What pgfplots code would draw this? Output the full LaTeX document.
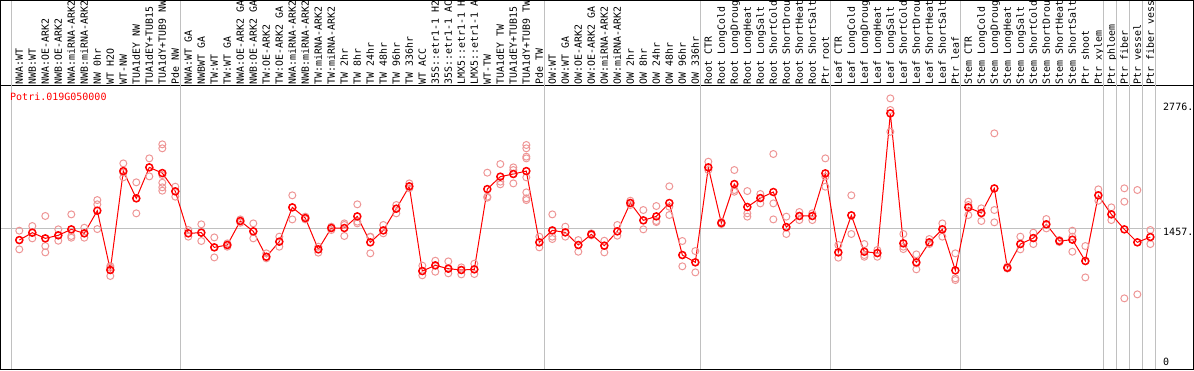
\documentclass[border=0pt]{standalone}
\usepackage{pgfplots}
\pgfplotsset{compat=1.18}
\usepackage{fontspec}
\setmonofont{DejaVu Sans Mono}
\definecolor{gridgray}{RGB}{192,192,192}
\definecolor{pinkrep}{RGB}{238,150,150}
\newcommand{\lblfont}{\ttfamily\fontsize{10}{10}\selectfont}
\newcommand{\toplblfont}{\ttfamily\fontsize{9.9}{10}\selectfont}
\begin{document}
\begin{tikzpicture}
\begin{axis}[
  name=ax,
  x=13pt, y=0.09477pt,
  xmin=-1.446, xmax=90.32, ymin=-35.9, ymax=2955.6,
  enlargelimits=false,
  clip=false,
  axis line style={black, line width=1pt},
  xtick={0,...,87},
  xticklabels={{NWA:WT},{NWB:WT},{NWA:OE-ARK2},{NWB:OE-ARK2},{NWA:miRNA-ARK2},{NWB:miRNA-ARK2},{NW 0hr},{WT H2O},{WT-NW},{TUA1dEY NW},{TUA1dEY+TUB15},{TUA1dY+TUB9 NW},{Pde NW},
  {NWA:WT GA},{NWBWT GA},{TW:WT},{TW:WT GA},{NWA:OE-ARK2 GA},{NWB:OE-ARK2 GA},{TW:OE-ARK2},{TW:OE-ARK2 GA},{NWA:miRNA-ARK2},{NWB:miRNA-ARK2},{TW:miRNA-ARK2},{TW:miRNA-ARK2},{TW 2hr},{TW 8hr},{TW 24hr},{TW 48hr},{TW 96hr},{TW 336hr},{WT ACC},{35S::etr1-1 H2},{35S::etr1-1 AC},{LMX5::etr1-1 H},{LMX5::etr1-1 A},{WT-TW},{TUA1dEY TW},{TUA1dEY+TUB15},{TUA1dY+TUB9 TW},{Pde TW},
  {OW:WT},{OW:WT GA},{OW:OE-ARK2},{OW:OE-ARK2 GA},{OW:miRNA-ARK2},{OW:miRNA-ARK2},{OW 2hr},{OW 8hr},{OW 24hr},{OW 48hr},{OW 96hr},{OW 336hr},
  {Root CTR},{Root LongCold},{Root LongDroug},{Root LongHeat},{Root LongSalt},{Root ShortCold},{Root ShortDrou},{Root ShortHeat},{Root ShortSalt},{Ptr root},
  {Leaf CTR},{Leaf LongCold},{Leaf LongDroug},{Leaf LongHeat},{Leaf LongSalt},{Leaf ShortCold},{Leaf ShortDrou},{Leaf ShortHeat},{Leaf ShortSalt},{Ptr leaf},
  {Stem CTR},{Stem LongCold},{Stem LongDroug},{Stem LongHeat},{Stem LongSalt},{Stem ShortCold},{Stem ShortDrou},{Stem ShortHeat},{Stem ShortSalt},{Ptr shoot},{Ptr xylem},
  {Ptr phloem},{Ptr fiber},{Ptr vessel},{Ptr fiber vess}},
  xticklabel pos=upper,
  xticklabel style={rotate=90, anchor=west, inner sep=0pt, text height=7pt, text depth=0pt, font=\toplblfont},
  xticklabel shift=1.6pt,
  ytick={1457,2776},
  yticklabels={1457.,2776.},
  yticklabel pos=right,
  yticklabel style={anchor=north west, inner sep=0pt, xshift=-30.5pt, font=\lblfont},
  extra y ticks={0},
  extra y tick labels={0},
  extra y tick style={yticklabel style={anchor=south west}},
  major tick length=0pt,
  tick style={draw=none},
]
% guide lines
\draw[gridgray, line width=1pt] (axis cs:-1.446,1457) -- (axis cs:87.82,1457);
\pgfplotsinvokeforeach{-0.62,12.38,40.38,52.38,62.38,72.38,83.38,84.38,85.38,86.38,87.38}{
  \draw[gridgray, line width=1pt] (axis cs:#1,-35.9) -- ([yshift=85.5pt]axis cs:#1,2955.6);
}
% replicates
\addplot[only marks, mark=o, mark size=3.5pt, pinkrep, line width=1pt] table {
x y
0 1429
0 1330
0 1232
1 1478
1 1408
1 1348
2 1584
2 1267
2 1200
3 1443
3 1380
3 1323
4 1601
4 1373
4 1355
5 1460
5 1401
5 1355
6 1752
6 1707
6 1446
7 1056
7 1038
7 951
8 2139
8 2041
8 1992
9 1939
9 1770
9 1612
10 2192
10 2097
10 2002
11 2340
11 2298
11 2016
11 1935
11 1886
11 1851
12 1893
12 1844
12 1788
13 1436
13 1401
13 1366
14 1496
14 1408
14 1320
15 1358
15 1253
15 1147
16 1295
16 1278
16 1260
17 1548
17 1531
17 1513
18 1506
18 1422
18 1348
19 1190
19 1154
19 1137
20 1366
20 1313
20 1260
21 1802
21 1675
21 1548
22 1577
22 1562
22 1548
23 1260
23 1232
23 1197
24 1471
24 1457
24 1436
25 1506
25 1489
25 1373
26 1707
26 1524
26 1506
27 1366
27 1362
27 1190
28 1489
28 1432
28 1401
29 1700
29 1661
29 1612
30 1928
30 1897
30 1876
31 1060
31 1003
31 958
32 1112
32 1063
32 996
33 1105
33 1028
33 979
34 1042
34 1014
34 968
35 1081
35 1021
35 972
36 2041
36 1788
36 1777
37 2132
37 1946
37 1918
38 2097
38 2069
38 2027
38 1928
39 2333
39 2298
39 2210
39 2192
39 1992
39 1833
39 1770
39 1752
40 1366
40 1306
40 1253
41 1601
41 1366
41 1341
42 1471
42 1411
42 1366
43 1330
43 1278
43 1207
44 1401
44 1390
44 1380
45 1323
45 1271
45 1200
46 1489
46 1422
46 1376
47 1745
47 1721
47 1700
48 1647
48 1538
48 1443
49 1689
49 1531
49 1520
50 1897
50 1682
50 1594
51 1320
51 1172
51 1053
52 1214
52 1095
52 989
53 2157
53 2097
53 2069
54 1520
54 1510
54 1499
55 2069
55 1858
55 1840
56 1847
56 1612
56 1577
57 1816
57 1773
57 1717
58 2238
58 1717
58 1548
59 1577
59 1467
59 1394
60 1626
60 1584
60 1541
61 1612
61 1584
61 1541
62 2192
62 1999
62 1893
63 1278
63 1200
63 1144
64 1802
64 1591
64 1394
65 1288
65 1172
65 1154
66 1225
66 1190
66 1154
67 2825
67 2702
67 2473
68 1394
68 1260
68 1235
69 1179
69 1084
69 1021
70 1341
70 1306
70 1288
71 1506
71 1443
71 1366
72 1190
72 926
72 908
73 1735
73 1700
73 1594
74 1665
74 1612
74 1531
75 2456
75 1647
75 1517
76 1049
76 1031
76 1031
77 1366
77 1288
77 1232
78 1408
78 1351
78 1288
79 1552
79 1496
79 1453
80 1330
80 1320
80 1309
81 1429
81 1366
81 1207
82 1267
82 1109
82 936
83 1865
83 1802
83 1745
84 1675
84 1601
84 1541
85 1876
85 1735
85 715
86 1858
86 1306
86 757
87 1436
87 1362
87 1288
};
% means
\addplot[red, line width=1pt, mark=o, mark size=3.5pt, mark options={line width=1.5pt, red}] table {
x y
0 1330
1 1408
2 1348
3 1380
4 1443
5 1401
6 1640
7 1014
8 2058
9 1770
10 2097
11 2037
12 1844
13 1401
14 1408
15 1253
16 1278
17 1531
18 1422
19 1154
20 1313
21 1675
22 1562
23 1232
24 1457
25 1457
26 1580
27 1306
28 1432
29 1661
30 1897
31 1003
32 1063
33 1028
34 1014
35 1021
36 1868
37 1999
38 2027
39 2058
40 1306
41 1432
42 1411
43 1278
44 1390
45 1271
46 1422
47 1721
48 1538
49 1580
50 1721
51 1172
52 1095
53 2097
54 1510
55 1921
56 1679
57 1773
58 1837
59 1467
60 1584
61 1584
62 2034
63 1200
64 1591
65 1207
66 1193
67 2667
68 1295
69 1095
70 1306
71 1443
72 1010
73 1675
74 1615
75 1875
76 1038
77 1288
78 1351
79 1496
80 1320
81 1334
82 1109
83 1802
84 1601
85 1443
86 1306
87 1362
};
\node[anchor=north west, inner sep=0pt, text=red, font=\lblfont] at ([xshift=9.5pt,yshift=-7pt]rel axis cs:0,1) {Potri.019G050000};
\end{axis}
\draw[black, line width=1pt] (ax.south west) rectangle ([yshift=85.5pt]ax.north east);
\pgfresetboundingbox
\path[use as bounding box] ([shift={(-0.5pt,-0.5pt)}]ax.south west) rectangle ([shift={(0.5pt,86pt)}]ax.north east);
\end{tikzpicture}
\end{document}
